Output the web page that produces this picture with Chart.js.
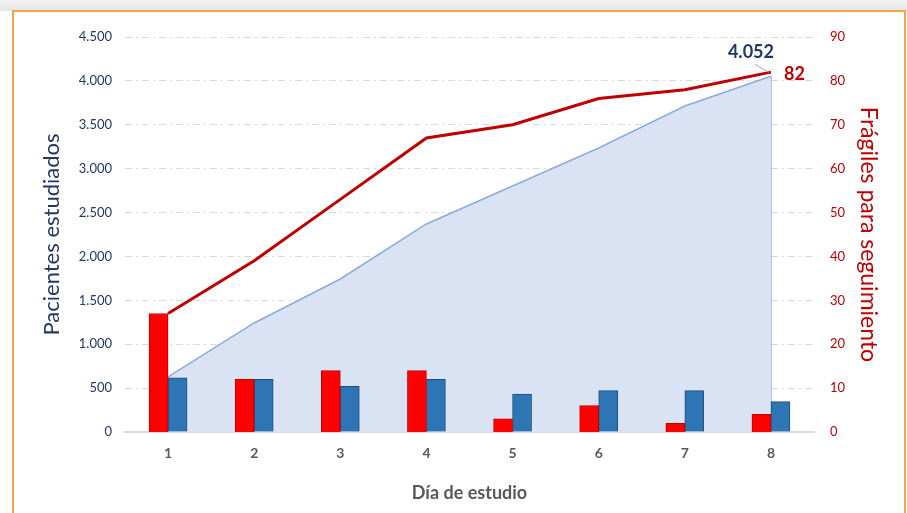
<!DOCTYPE html>
<html>
<head>
<meta charset="utf-8">
<script src="https://cdn.jsdelivr.net/npm/chart.js@4.4.1/dist/chart.umd.min.js"></script>
<style>
  html, body { margin: 0; padding: 0; background: #fff; }
  body { width: 907px; height: 513px; position: relative; overflow: hidden; }
  #shade { position: absolute; left: 0; top: 0; width: 907px; height: 11px; background: linear-gradient(#f2f2f2, #e6e6e6); }
  #frame { position: absolute; left: 12px; top: 10px; width: 890px; height: 520px; border: 2px solid #f6a54c; background: #fff; }
  #wrap { position: absolute; left: 0; top: 0; width: 907px; height: 513px; }
</style>
</head>
<body>
<div id="shade"></div>
<div id="frame"></div>
<div id="wrap"><canvas id="myChart" width="907" height="513"></canvas></div>
<script>
var days = ["1", "2", "3", "4", "5", "6", "7", "8"];
var fragilesDia = [27, 12, 14, 14, 3, 6, 2, 4];
var pacientesDia = [618, 600, 520, 600, 432, 472, 472, 346];
var fragilesAcum = [27, 39, 53, 67, 70, 76, 78, 82];
var pacientesAcum = [627, 1242, 1743, 2370, 2803, 3236, 3714, 4052];

var font = "Lato, 'Open Sans', sans-serif";

function fmt(v){
	return String(v).replace(/\B(?=(\d{3})+(?!\d))/g, ".");
}

// last-point labels: 4.052 with leader line, 82 next to red line
// plus the closing edge of the area down to the axis
var endLabels = {
	id: "endLabels",
	beforeDatasetsDraw: function(chart){
		var ctx = chart.ctx;
		var area = chart.getDatasetMeta(3).data[7];
		var y0 = chart.scales.y.getPixelForValue(0);
		ctx.save();
		ctx.strokeStyle = "#8eaadb";
		ctx.lineWidth = 1.5;
		ctx.beginPath();
		ctx.moveTo(area.x, area.y);
		ctx.lineTo(area.x, y0);
		ctx.stroke();
		ctx.restore();
	},
	afterDatasetsDraw: function(chart){
		var ctx = chart.ctx;
		var area = chart.getDatasetMeta(3).data[7];
		var red = chart.getDatasetMeta(0).data[7];
		ctx.save();
		ctx.strokeStyle = "#a6a6a6";
		ctx.lineWidth = 1;
		ctx.beginPath();
		ctx.moveTo(area.x - 16, area.y - 12);
		ctx.lineTo(area.x - 2, area.y - 4);
		ctx.stroke();
		ctx.font = "bold 18px " + font;
		ctx.fillStyle = "#203864";
		ctx.textAlign = "center";
		ctx.textBaseline = "middle";
		ctx.fillText(fmt(pacientesAcum[7]), area.x - 20, area.y - 24);
		ctx.fillStyle = "#c00000";
		ctx.textAlign = "left";
		ctx.fillText(String(fragilesAcum[7]), red.x + 13, red.y + 2);
		ctx.restore();
	}
};

var ctx = document.getElementById("myChart");
var chart = new Chart(ctx, {
	data: {
		labels: days,
		datasets: [
			{
				type: "line",
				label: "Frágiles acumulados",
				data: fragilesAcum,
				yAxisID: "y1",
				borderColor: "#c00000",
				borderWidth: 3,
				pointRadius: 0,
				tension: 0,
				fill: false,
				order: 0
			},
			{
				type: "bar",
				label: "Frágiles por día",
				data: fragilesDia,
				yAxisID: "y1",
				backgroundColor: "#ff0000",
				borderColor: "#c00000",
				borderWidth: 1,
				barThickness: 19,
				order: 1
			},
			{
				type: "bar",
				label: "Pacientes por día",
				data: pacientesDia,
				yAxisID: "y",
				backgroundColor: "#2e75b6",
				borderColor: "#1f4e79",
				borderWidth: 1,
				barThickness: 19,
				order: 1
			},
			{
				type: "line",
				label: "Pacientes acumulados",
				data: pacientesAcum,
				yAxisID: "y",
				borderColor: "#8eaadb",
				borderWidth: 1.5,
				backgroundColor: "#dae3f3",
				pointRadius: 0,
				tension: 0,
				fill: "origin",
				order: 2
			}
		]
	},
	options: {
		responsive: false,
		animation: false,
		layout: { padding: { top: 37, left: 0, right: 0, bottom: 0 } },
		plugins: {
			legend: { display: false },
			tooltip: { enabled: false }
		},
		scales: {
			x: {
				grid: { display: false },
				border: { display: true, color: "#d9d9d9", width: 2 },
				ticks: {
					color: "#595959",
					font: { family: font, size: 14, weight: "bold" },
					padding: 5
				},
				title: {
					display: true,
					text: "Día de estudio",
					color: "#595959",
					font: { family: font, size: 18, weight: "bold" },
					padding: { top: 0, bottom: 9 }
				},
				afterFit: function(scale){ scale.height = 81; }
			},
			y: {
				position: "left",
				min: 0,
				max: 4500,
				ticks: {
					stepSize: 500,
					color: "#203864",
					font: { family: font, size: 13 },
					padding: 13,
					callback: function(v){ return fmt(v); }
				},
				grid: {
					color: "#d9d9d9",
					lineWidth: 1,
					drawTicks: false
				},
				border: { display: false, dash: [7, 4, 2, 4] },
				title: {
					display: true,
					text: "Pacientes estudiados",
					color: "#203864",
					font: { family: font, size: 22 },
					padding: { top: 39, bottom: 0 }
				},
				afterFit: function(scale){ scale.width = 125; }
			},
			y1: {
				position: "right",
				min: 0,
				max: 90,
				ticks: {
					stepSize: 10,
					color: "#c00000",
					font: { family: font, size: 13 },
					padding: 16
				},
				grid: { display: false, drawTicks: false },
				border: { display: false },
				title: {
					display: true,
					text: "Frágiles para seguimiento",
					color: "#c00000",
					font: { family: font, size: 23 },
					padding: { top: 25, bottom: 0 }
				},
				afterFit: function(scale){ scale.width = 93; }
			}
		}
	},
	plugins: [endLabels]
});
</script>
</body>
</html>
